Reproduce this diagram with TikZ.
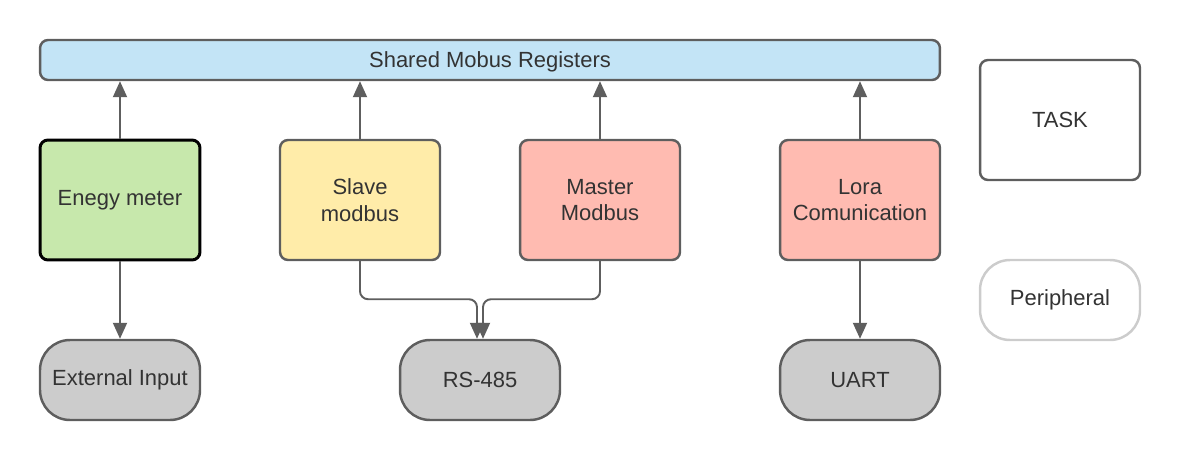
\documentclass[tikz,border=0pt]{standalone}
\usepackage{fontspec}
\setmainfont{Liberation Sans}
\usetikzlibrary{arrows.meta}
\definecolor{regblue}{HTML}{C3E4F6}
\definecolor{taskgreen}{HTML}{C7E8AC}
\definecolor{taskyellow}{HTML}{FFECA9}
\definecolor{taskred}{HTML}{FFBBB1}
\definecolor{perigray}{HTML}{CCCCCC}
\definecolor{linegray}{HTML}{5E5E5E}
\definecolor{textgray}{HTML}{333333}
\tikzset{
  task/.style={draw=linegray, line width=1.4pt, rounded corners=0.16cm,
    minimum width=3.2cm, minimum height=2.4cm, align=center, text=textgray,
    font=\fontsize{12.5}{15}\selectfont},
  peri/.style={draw=linegray, line width=1.4pt, fill=perigray, rounded corners=0.6cm,
    minimum width=3.2cm, minimum height=1.6cm, align=center, text=textgray,
    font=\fontsize{12.5}{15}\selectfont},
  arr/.style={draw=linegray, line width=1.1pt, -{Triangle[length=0.32cm,width=0.28cm]}}
}
\begin{document}
\begin{tikzpicture}[x=0.02cm, y=-0.02cm]
\useasboundingbox (0,0) rectangle (1180,460);
\node[task, fill=regblue, minimum width=18cm, minimum height=0.8cm, text depth=0pt] (reg) at (490,60){Shared Mobus Registers};
\node[task, fill=taskgreen, draw=black, line width=1.7pt] (em) at (120,200){Enegy meter};
\node[task, fill=taskyellow] (sm) at (360,200){Slave\\modbus};
\node[task, fill=taskred] (mm) at (600,200){Master\\Modbus};
\node[task, fill=taskred] (lc) at (860,200){Lora\\Comunication};
\node[peri] (ei) at (120,380){External Input};
\node[peri] (rs) at (480,380){RS-485};
\node[peri] (ua) at (860,380){UART};
\node[task, fill=white] (lt) at (1060,120){TASK};
\node[peri, fill=white, draw=perigray] (lp) at (1060,300){Peripheral};
\draw[arr](em.north) -- (em.north |- reg.south);
\draw[arr](sm.north) -- (sm.north |- reg.south);
\draw[arr](mm.north) -- (mm.north |- reg.south);
\draw[arr](lc.north) -- (lc.north |- reg.south);
\draw[arr](em) -- (ei);
\draw[arr](lc) -- (ua);
\draw[arr, rounded corners=0.16cm](sm.south) -- ++(0,38) -| ([xshift=-0.06cm]rs.north);
\draw[arr, rounded corners=0.16cm](mm.south) -- ++(0,38) -| ([xshift=0.06cm]rs.north);
\end{tikzpicture}
\end{document}
